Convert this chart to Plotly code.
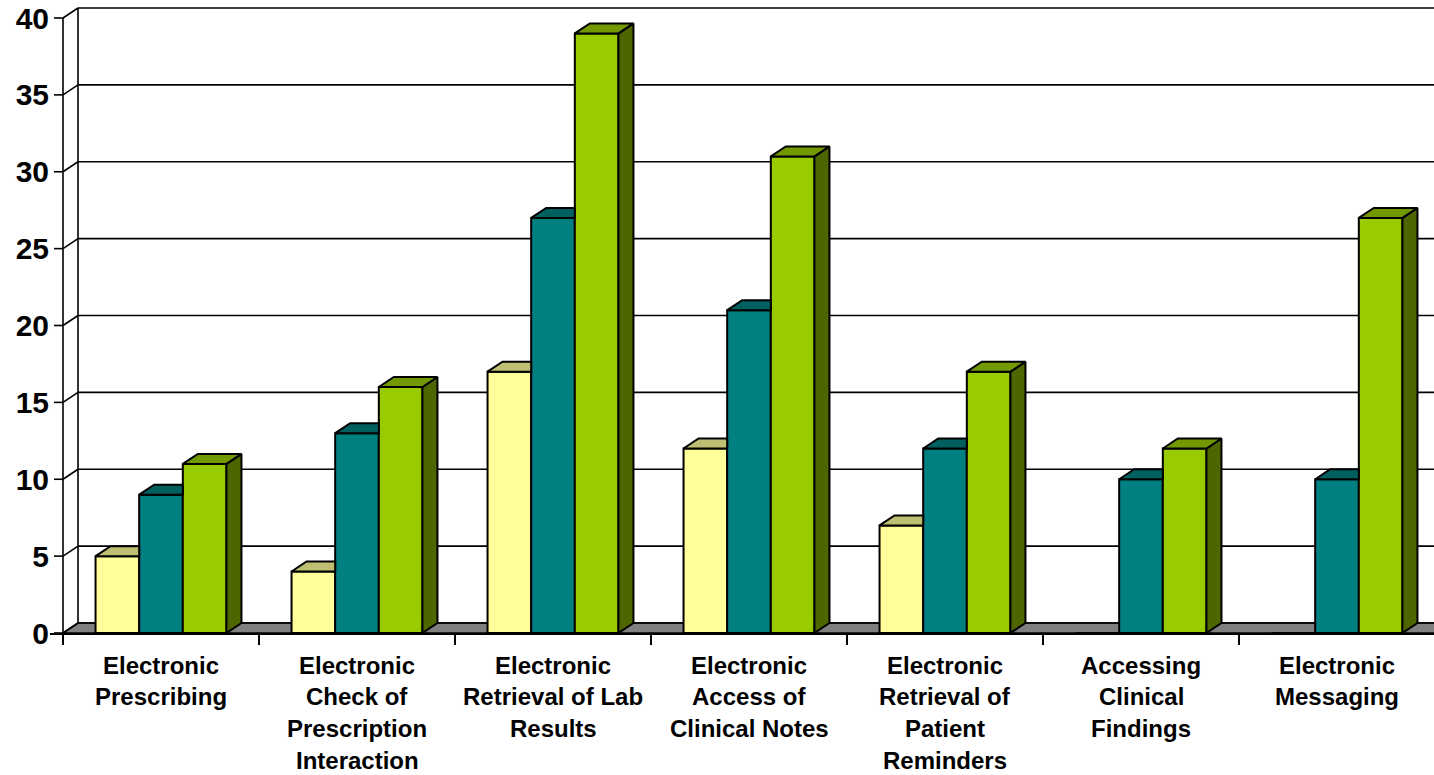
import plotly.graph_objects as go

# ---- data -------------------------------------------------------------
categories = [
    "Electronic\nPrescribing",
    "Electronic\nCheck of\nPrescription\nInteraction",
    "Electronic\nRetrieval of Lab\nResults",
    "Electronic\nAccess of\nClinical Notes",
    "Electronic\nRetrieval of\nPatient\nReminders",
    "Accessing\nClinical\nFindings",
    "Electronic\nMessaging",
]
series_names = ["Series 1", "Series 2", "Series 3"]
series_1 = [5, 4, 17, 12, 7, 0, 0]
series_2 = [9, 13, 27, 21, 12, 10, 10]
series_3 = [11, 16, 39, 31, 17, 12, 27]
y_ticks = [0, 5, 10, 15, 20, 25, 30, 35, 40]

# ---- styling ----------------------------------------------------------
front_colors = ["#FFFF99", "#008080", "#99CC00"]
top_colors = ["#BFBF73", "#006060", "#739900"]
side_colors = ["#80804D", "#004040", "#4D6600"]
FONT = "Liberation Sans, Arial, sans-serif"
BAR_EDGE = 2.0
GRID_EDGE = 1.6

# ---- geometry (pixel scale of the axes) --------------------------------
W, H = 1434, 775
LEFT, TOP, ZERO_PX = 50, 6, 633
CAT_PX = 196.0          # pixels per category
UNIT_PX = 15.375        # pixels per value unit
DX = 15 / CAT_PX        # depth offset, x (category units)
DY = 10 / UNIT_PX       # depth offset, y (value units)
GROUP = 0.668           # fraction of a category taken by the bar group
BAR_W = GROUP / 3

x_lo = -0.5 - (63 - LEFT) / CAT_PX
x_hi = x_lo + (W - LEFT) / CAT_PX
y_hi = (ZERO_PX - TOP) / UNIT_PX

all_series = [series_1, series_2, series_3]
n_cat = len(categories)
idx = list(range(n_cat))

fig = go.Figure()

# front faces
for j, vals in enumerate(all_series):
    fig.add_trace(go.Bar(
        x=idx, y=vals, name=series_names[j],
        marker=dict(color=front_colors[j], line=dict(color="black", width=BAR_EDGE)),
        showlegend=False, hoverinfo="skip",
    ))

# top and side faces of the 3-D bars
for j, vals in enumerate(all_series):
    nxt = all_series[j + 1] if j + 1 < len(all_series) else None
    tx, ty, sx, sy = [], [], [], []
    for i, v in enumerate(vals):
        if v <= 0:
            continue
        xl = i - GROUP / 2 + j * BAR_W
        xr = xl + BAR_W
        hidden_right = nxt is not None and nxt[i] >= v
        if hidden_right:
            tx += [xl, xr, xr, xl + DX, xl, None]
            ty += [v, v, v + DY, v + DY, v, None]
        else:
            tx += [xl, xr, xr + DX, xl + DX, xl, None]
            ty += [v, v, v + DY, v + DY, v, None]
            sx += [xr, xr, xr + DX, xr + DX, xr, None]
            sy += [0, v, v + DY, DY, 0, None]
    if sx:
        fig.add_trace(go.Scatter(
            x=sx, y=sy, mode="lines", fill="toself", fillcolor=side_colors[j],
            line=dict(color="black", width=BAR_EDGE), showlegend=False, hoverinfo="skip",
        ))
    fig.add_trace(go.Scatter(
        x=tx, y=ty, mode="lines", fill="toself", fillcolor=top_colors[j],
        line=dict(color="black", width=BAR_EDGE), showlegend=False, hoverinfo="skip",
    ))

# floor, back wall, gridlines and front value axis
shapes = []
line_style = dict(color="black", width=GRID_EDGE)
shapes.append(dict(
    type="path", xref="x", yref="y", layer="below",
    path=f"M {-0.5},0 L {x_hi + 1},0 L {x_hi + 1 + DX},{DY} L {-0.5 + DX},{DY} Z",
    fillcolor="#808080", line=line_style,
))
shapes.append(dict(type="line", xref="x", yref="y", layer="below",
                   x0=-0.5 + DX, y0=DY, x1=-0.5 + DX, y1=y_ticks[-1] + DY, line=line_style))
shapes.append(dict(type="line", xref="x", yref="y", layer="below",
                   x0=-0.5, y0=0, x1=-0.5, y1=y_ticks[-1], line=line_style))
for v in y_ticks:
    shapes.append(dict(type="line", xref="x", yref="y", layer="below",
                       x0=-0.5 + DX, y0=v + DY, x1=x_hi + 1, y1=v + DY, line=line_style))
    shapes.append(dict(type="line", xref="x", yref="y", layer="below",
                       x0=-0.5, y0=v, x1=-0.5 + DX, y1=v + DY, line=line_style))
    shapes.append(dict(type="line", xref="x", yref="y", layer="below",
                       x0=-0.5 - 9 / CAT_PX, y0=v, x1=-0.5, y1=v, line=line_style))

# category labels, one line at a time
annotations = []
for i, label in enumerate(categories):
    for k, part in enumerate(label.split("\n")):
        annotations.append(dict(
            x=i, y=0, xref="x", yref="y", text=part, showarrow=False,
            xanchor="center", yanchor="middle", yshift=-(32.0 + 31.8 * k),
            font=dict(family=FONT, size=24, color="black", weight="bold"),
        ))

fig.update_layout(
    width=W, height=H,
    margin=dict(l=LEFT, r=0, t=TOP, b=H - ZERO_PX),
    paper_bgcolor="white", plot_bgcolor="white",
    barmode="group", bargap=1 - GROUP, bargroupgap=0,
    shapes=shapes, annotations=annotations, showlegend=False,
    xaxis=dict(
        range=[x_lo, x_hi], tickvals=[i - 0.5 for i in range(n_cat + 1)],
        showticklabels=False, ticks="outside", ticklen=10, tickwidth=GRID_EDGE,
        tickcolor="black", showline=True, linecolor="black", linewidth=GRID_EDGE,
        showgrid=False, zeroline=False, fixedrange=True,
    ),
    yaxis=dict(
        range=[0, y_hi], tickvals=y_ticks, ticks="", showline=False,
        showgrid=False, zeroline=False, ticklabelstandoff=0,
        tickfont=dict(family=FONT, size=30, color="black", weight="bold"),
        fixedrange=True,
    ),
)

fig.write_html("out.html")
